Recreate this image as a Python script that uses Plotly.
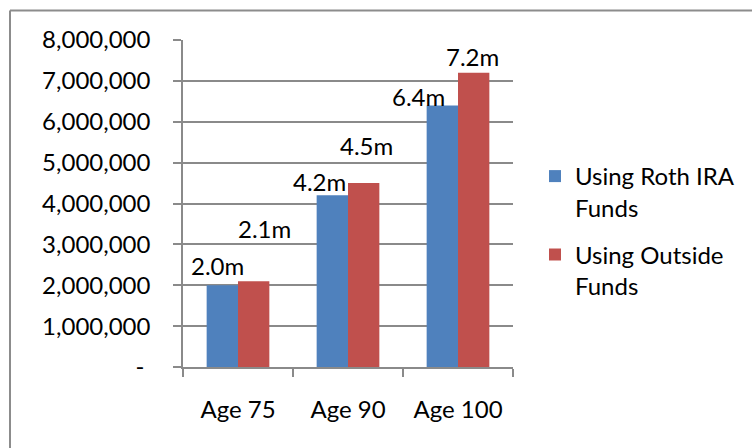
import plotly.graph_objects as go

# Portfolio value at each age, in millions of dollars
ages = ["Age 75", "Age 90", "Age 100"]
roth_funds = [2.0, 4.2, 6.4]
outside_funds = [2.1, 4.5, 7.2]
series_names = ["Using Roth IRA<br>Funds", "Using Outside<br>Funds"]
y_ticks = [0, 1, 2, 3, 4, 5, 6, 7, 8]

# Offsets (px) of each value label from the top of its bar
roth_label_shift = [(-21, 20), (-29, 14), (-40, 9)]
outside_label_shift = [(26, 53), (18, 38), (14, 16)]

FONT = "Lato"
FS = 24
GRID = "#8a8a8a"
W, H = 752, 448
ML, MR, MT, MB = 183, 239, 40, 81

fig = go.Figure()
fig.add_trace(go.Bar(
    x=ages, y=[v * 1e6 for v in roth_funds], name=series_names[0],
    marker=dict(color="#4F81BD", line=dict(width=0)), legendgroup="a",
))
fig.add_trace(go.Bar(
    x=ages, y=[v * 1e6 for v in outside_funds], name=series_names[1],
    marker=dict(color="#C0504D", line=dict(width=0)), legendgroup="b",
))

annotations = []
for vals, shifts in ((roth_funds, roth_label_shift), (outside_funds, outside_label_shift)):
    for age, v, (dx, dy) in zip(ages, vals, shifts):
        annotations.append(dict(
            x=age, y=v * 1e6, xref="x", yref="y", text=f"{v:.1f}m",
            showarrow=False, xshift=dx, yshift=dy, xanchor="center", yanchor="middle",
            font=dict(family=FONT, size=FS, color="#000000"),
        ))

def tick_text(v):
    return "-\u00a0" if v == 0 else f"{v * 1_000_000:,}"

# Chart frame: top and left border lines
pw, ph = W - ML - MR, H - MT - MB
bx = (10 - ML) / pw
by = (H - MB - 10.5) / ph
shapes = [
    dict(type="line", xref="paper", yref="paper", x0=bx, x1=(W + 20 - ML) / pw, y0=by, y1=by,
         line=dict(color="#8c8c8c", width=2)),
    dict(type="line", xref="paper", yref="paper", x0=bx, x1=bx, y0=by, y1=(H - MB - H - 20) / ph,
         line=dict(color="#8c8c8c", width=2)),
]

fig.update_layout(
    width=W, height=H,
    margin=dict(l=ML, r=MR, t=MT, b=MB, pad=0, autoexpand=False),
    paper_bgcolor="white", plot_bgcolor="white",
    barmode="group", bargap=0.43, bargroupgap=0,
    font=dict(family=FONT, size=FS, color="#000000"),
    showlegend=True,
    legend=dict(
        x=(535 - ML) / pw, xanchor="left", y=(H - MB - 154) / ph, yanchor="top",
        traceorder="grouped", tracegroupgap=13, valign="top",
        font=dict(family=FONT, size=FS, color="#000000"),
        bgcolor="rgba(0,0,0,0)",
    ),
    annotations=annotations,
    shapes=shapes,
)
fig.update_xaxes(
    showline=True, linecolor=GRID, linewidth=1.5,
    ticks="outside", tickson="boundaries", ticklen=8, tickcolor=GRID, tickwidth=1.5,
    ticklabelstandoff=20, showgrid=False,
)
fig.update_yaxes(
    range=[0, 8e6], tickvals=[v * 1e6 for v in y_ticks], ticktext=[tick_text(v) for v in y_ticks],
    showline=True, linecolor=GRID, linewidth=1.5,
    ticks="outside", ticklen=8, tickcolor=GRID, tickwidth=1.5,
    showgrid=True, gridcolor=GRID, gridwidth=1.5, zeroline=False,
    ticklabelstandoff=18,
)

fig.write_html("out.html")
